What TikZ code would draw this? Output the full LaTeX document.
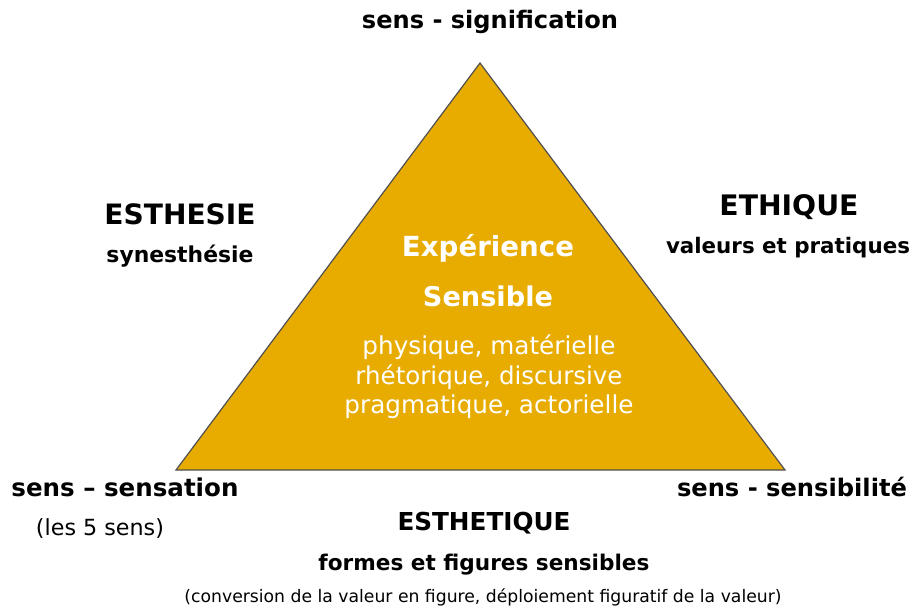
\documentclass[tikz,border=0pt]{standalone}
\usepackage{fontspec}
\setmainfont{DejaVu Sans}
\usepackage{graphicx}
\definecolor{gold}{RGB}{232,172,0}
\definecolor{edge}{RGB}{80,80,80}
\newcommand{\fitw}[2]{\resizebox{#1pt}{!}{#2}}
\begin{document}
\begin{tikzpicture}[x=1pt,y=-1pt,
  lbl/.style={inner sep=0pt,anchor=base,text=black},
  wlbl/.style={inner sep=0pt,anchor=base,text=white}]
\useasboundingbox (0,0) rectangle (911,608);
\coordinate (A) at (480,63);
\coordinate (B) at (176,470);
\coordinate (C) at (785,470);
\filldraw[fill=gold,draw=edge,line width=1.2pt] (A) -- (B) -- (C) -- cycle;
% top
\node[lbl] (top) at (490,28) {\fitw{256}{\bfseries sens - signification}};
% left
\node[lbl] (esthesie) at (180,224) {\fitw{151}{\bfseries ESTHESIE}};
\node[lbl] (syn) at (180,262) {\fitw{147}{\bfseries synesthésie}};
% right
\node[lbl] (ethique) at (789,215) {\fitw{139}{\bfseries ETHIQUE}};
\node[lbl] (val) at (788,253) {\fitw{244}{\bfseries valeurs et pratiques}};
% center
\node[wlbl] (exp) at (488,256) {\fitw{172}{\bfseries Expérience}};
\node[wlbl] (sens) at (488,306) {\fitw{130}{\bfseries Sensible}};
\node[wlbl] (l1) at (489,354) {\fitw{253}{physique, matérielle}};
\node[wlbl] (l2) at (489,384) {\fitw{267}{rhétorique, discursive}};
\node[wlbl] (l3) at (489,413) {\fitw{289}{pragmatique, actorielle}};
% bottom left
\node[lbl] (sensation) at (125,496) {\fitw{227}{\bfseries sens – sensation}};
\node[lbl] (cinq) at (100,535) {\fitw{128}{(les 5 sens)}};
% bottom right
\node[lbl] (sensib) at (792,496) {\fitw{230}{\bfseries sens - sensibilité}};
% bottom
\node[lbl] (esthetique) at (484,530) {\fitw{173}{\bfseries ESTHETIQUE}};
\node[lbl] (formes) at (484,570) {\fitw{331}{\bfseries formes et figures sensibles}};
\node[lbl] (conv) at (483,602) {\fitw{597}{(conversion de la valeur en figure, déploiement figuratif de la valeur)}};
\end{tikzpicture}
\end{document}
